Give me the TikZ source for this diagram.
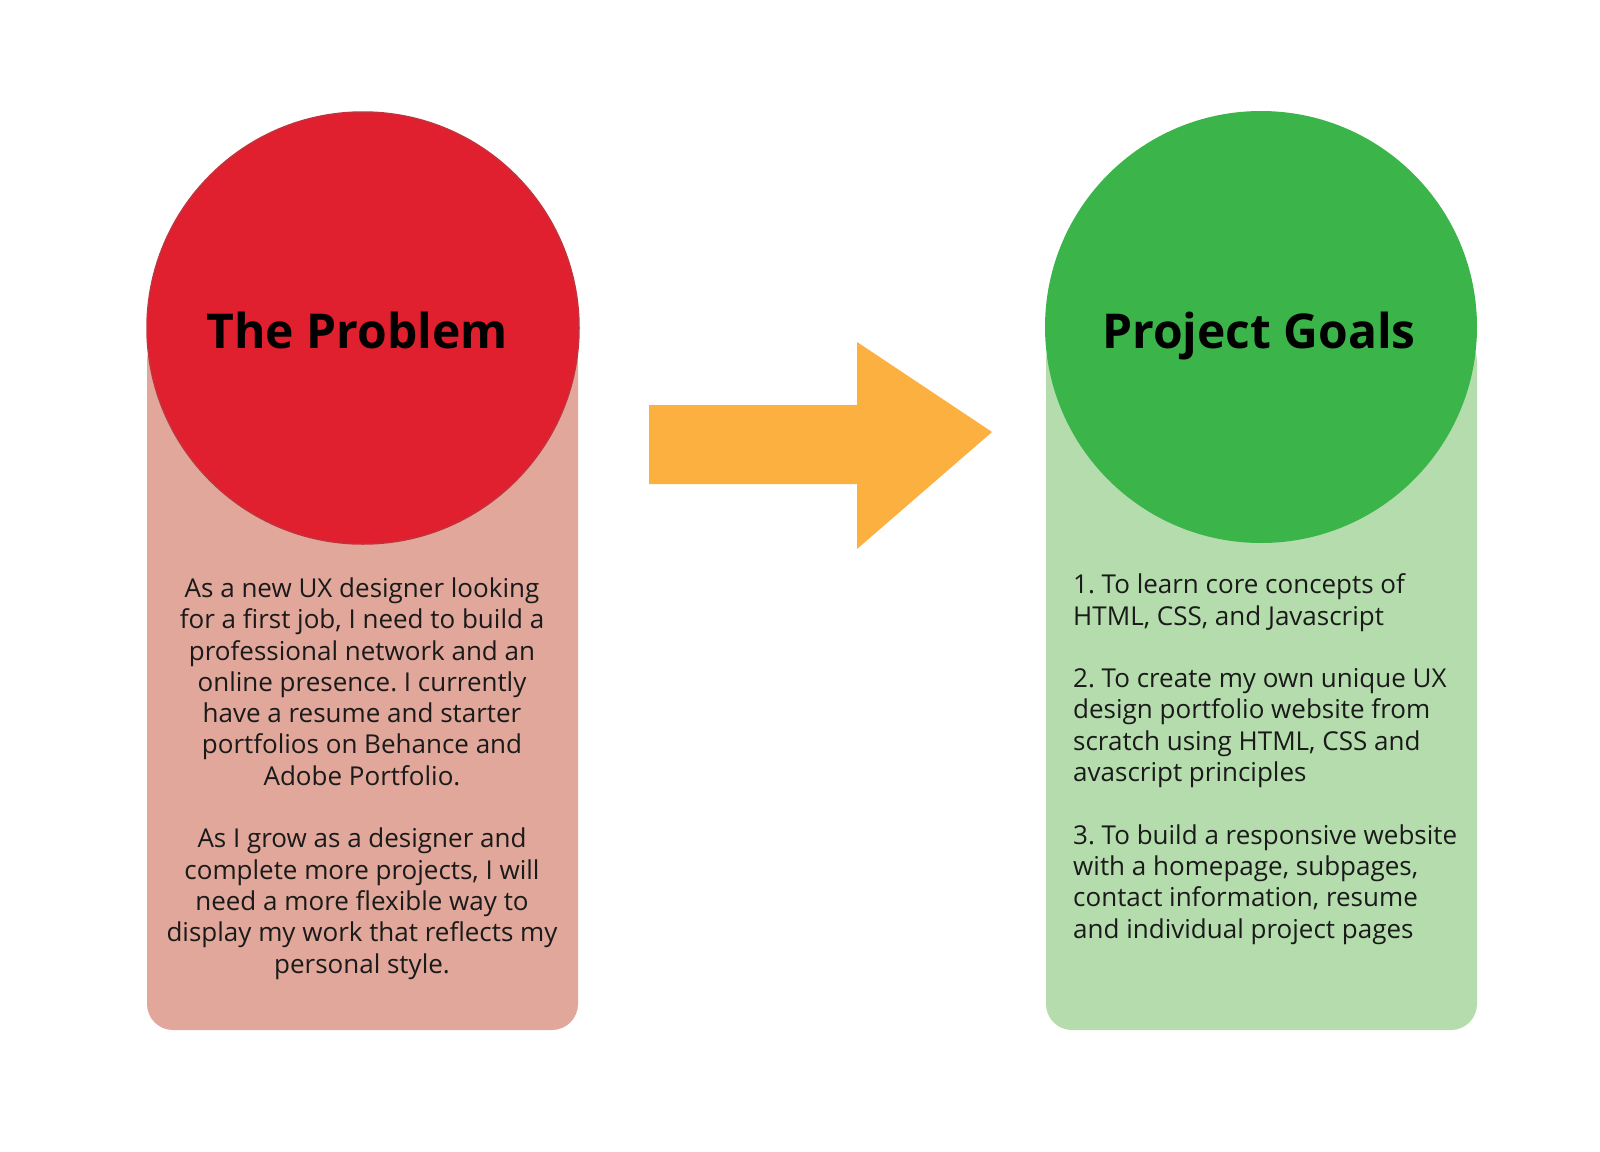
\documentclass[tikz,border=0pt]{standalone}
\usepackage{fontspec}
\setmainfont{Open Sans}
\frenchspacing
\definecolor{probred}{HTML}{E01F2F}
\definecolor{probedge}{HTML}{C4323C}
\definecolor{probpink}{HTML}{E0A79A}
\definecolor{goalgreen}{HTML}{3BB54A}
\definecolor{goallight}{HTML}{B5DCAD}
\definecolor{arroworange}{HTML}{FBB040}
\definecolor{bodytext}{HTML}{1A1A1A}
\tikzset{
  bigcircle/.style={circle, minimum size=432pt, inner sep=0pt},
  panel/.style={rounded corners=26pt},
  titletext/.style={anchor=base, inner sep=0pt, font=\bfseries\fontsize{48}{58}\selectfont, text=black},
  bodybox/.style={inner sep=0pt, font=\fontsize{26}{31.3}\selectfont, text=bodytext},
}
\begin{document}
\begin{tikzpicture}[x=1pt,y=-1pt]
\useasboundingbox (0,0) rectangle (1600,1151);
% panels
\fill[probpink, panel] (147,335) rectangle (578,1030);
\fill[goallight, panel] (1046,335) rectangle (1477,1030);
% circles
\node[bigcircle, fill=probred, draw=probedge, line width=1.5pt] (pc) at (363,328) {};
\node[bigcircle, fill=goalgreen] (gc) at (1261,327) {};
% titles
\node[titletext] (pt) at (357,348) {The Problem};
\node[titletext] (gt) at (1259,348) {Project Goals};
% arrow
\fill[arroworange] (649,405) -- (857,405) -- (857,342) -- (992,432) -- (857,549) -- (857,484) -- (649,484) -- cycle;
% body texts (anchor at baseline of last line)
\node[bodybox, align=center, anchor=base] (pb) at (362,973) {As a new UX designer looking\\for a first job, I need to build a\\professional network and an\\online presence. I currently\\have a resume and starter\\portfolios on Behance and\\Adobe Portfolio.\\[31.3pt]As I grow as a designer and\\complete more projects, I will\\need a more flexible way to\\display my work that reflects my\\personal style.};
\node[bodybox, align=left, anchor=base west] (gb) at (1073,938) {1. To learn core concepts of\\HTML, CSS, and Javascript\\[31.3pt]2. To create my own unique UX\\design portfolio website from\\scratch using HTML, CSS and\\avascript principles\\[31.3pt]3. To build a responsive website\\with a homepage, subpages,\\contact information, resume\\and individual project pages};
\end{tikzpicture}
\end{document}
